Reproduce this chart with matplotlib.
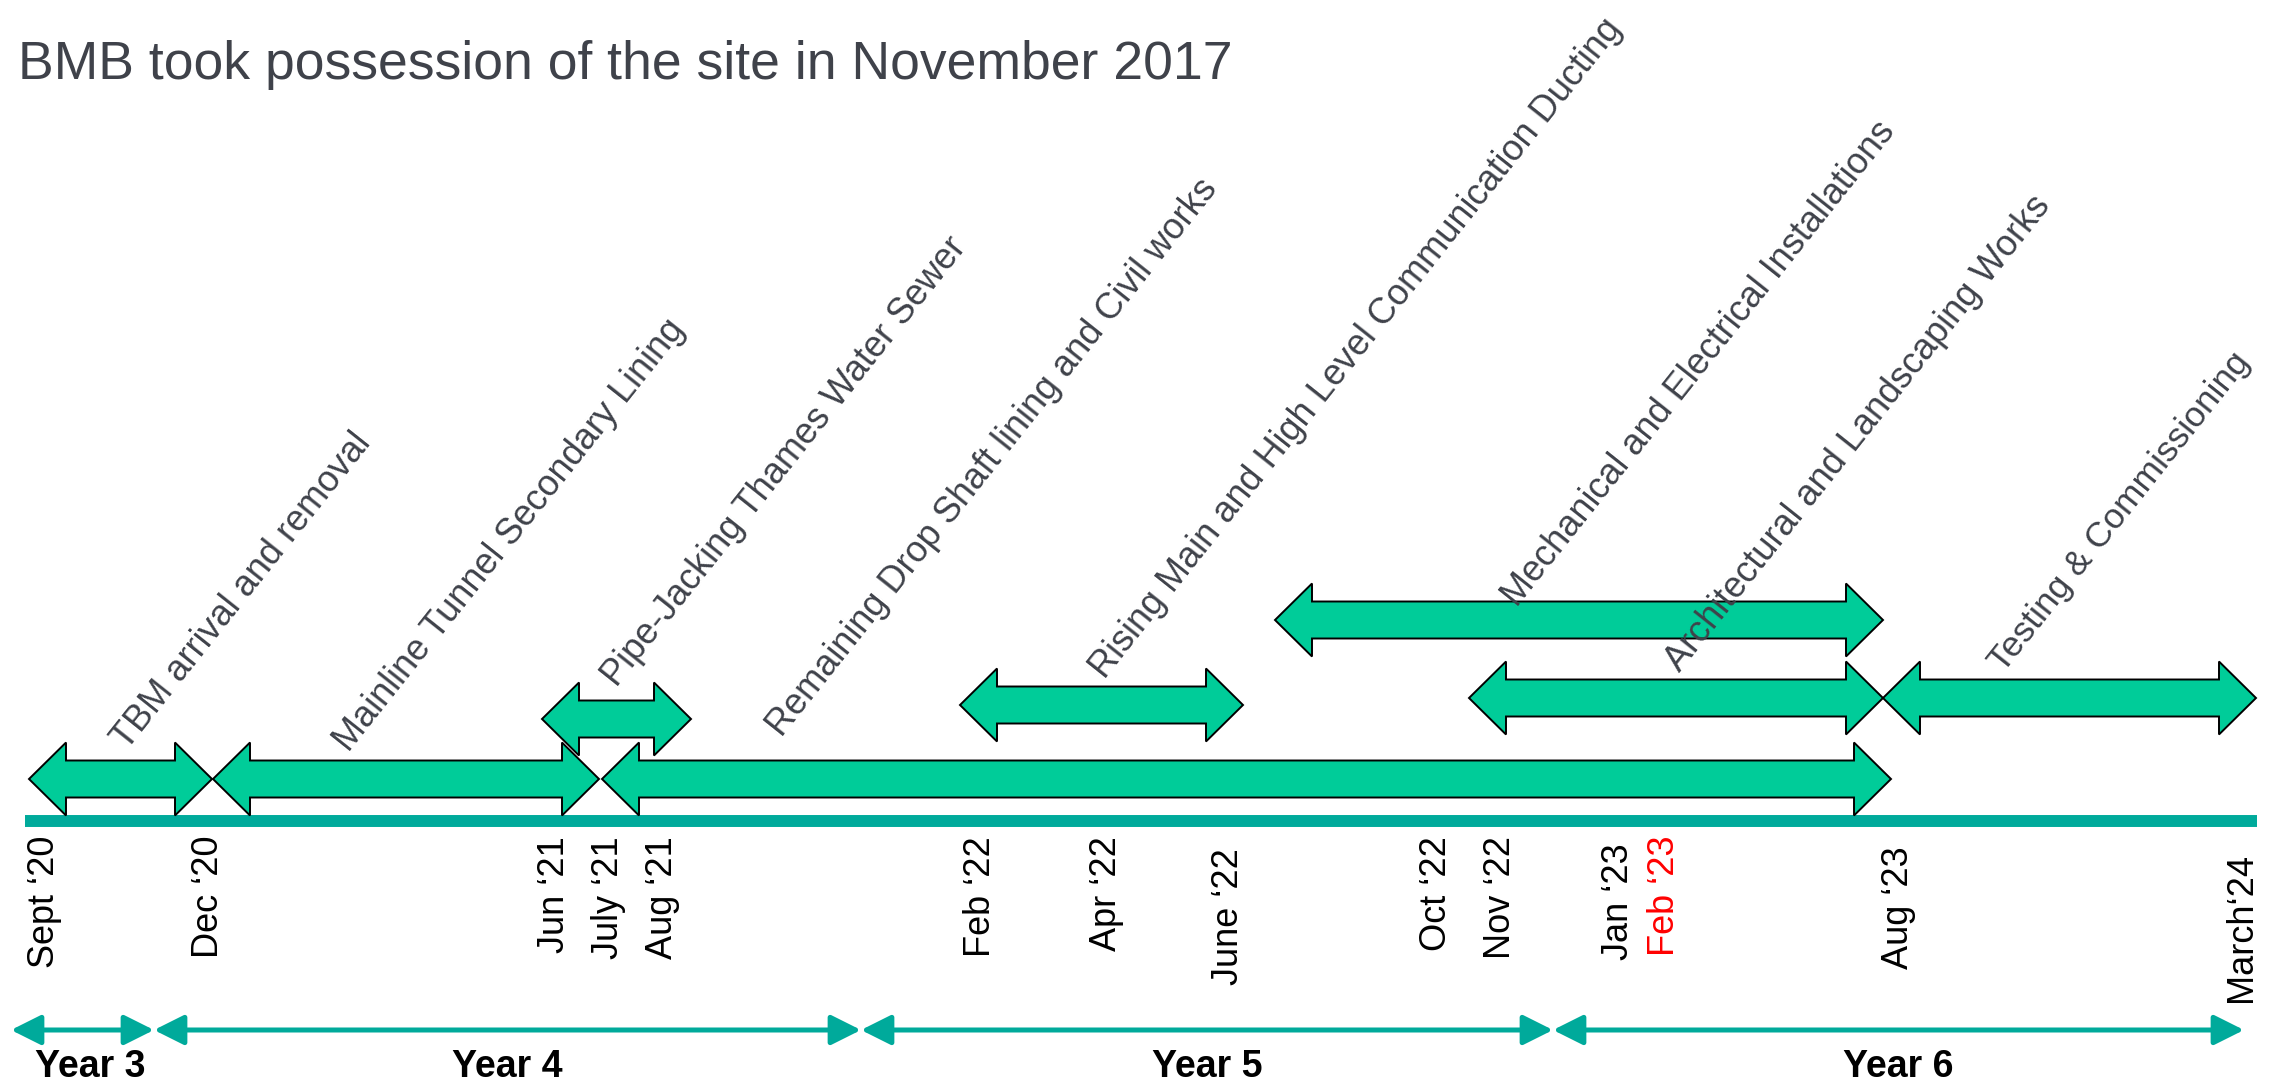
import matplotlib
matplotlib.use("Agg")
import matplotlib.pyplot as plt
from matplotlib import font_manager
from matplotlib.patches import Polygon, FancyArrowPatch

# ---- data ----
title = "BMB took possession of the site in November 2017"

milestones = ["Sept \u201820", "Dec \u201820", "Jun \u201821", "July \u201821", "Aug \u201821",
              "Feb \u201822", "Apr \u201822", "June \u201822", "Oct \u201822", "Nov \u201822",
              "Jan \u201823", "Feb \u201823", "Aug \u201823", "March\u201824"]
milestone_x = [45, 208, 554, 608, 662, 981, 1106, 1228, 1437, 1500, 1618, 1665, 1899, 2241]
highlight = ["Feb \u201823"]

tasks = ["TBM arrival and removal",
         "Mainline Tunnel Secondary Lining",
         "Pipe-Jacking Thames Water Sewer",
         "Remaining Drop Shaft lining and Civil works",
         "Rising Main and High Level Communication Ducting",
         "Mechanical and Electrical Installations",
         "Architectural and Landscaping Works",
         "Testing & Commissioning"]
task_start = [29, 213, 542, 602, 960, 1275, 1469, 1883]
task_end = [212, 599, 691, 1891, 1243, 1883, 1883, 2256]

years = ["Year 3", "Year 4", "Year 5", "Year 6"]
year_start = [11, 154, 861, 1553]
year_end = [154, 861, 1553, 2244]

# ---- layout ----
task_y = [779, 779, 719, 779, 705, 620, 698, 698]
label_xy = [(127, 751), (349, 753), (617, 688), (782, 738),
            (1105, 680), (1517, 608), (1680, 673), (2004, 674)]
label_size = [26, 26, 26, 26, 26, 26, 26, 25.5]
tick_top = {"June \u201822": 848, "Jan \u201823": 843, "Aug \u201823": 846, "March\u201824": 853}
year_label_x = [90, 507, 1207, 1898]

avail = {f.name for f in font_manager.fontManager.ttflist}
narrow = "Liberation Sans Narrow" if "Liberation Sans Narrow" in avail else "Liberation Sans"
plt.rcParams['font.family'] = ['Liberation Sans', 'DejaVu Sans']

fill_col = "#00CC99"
teal = "#00AA9B"
grey = "#3F424A"

fig = plt.figure(figsize=(22.72, 10.88), dpi=100)
ax = fig.add_axes([0, 0, 1, 1])
ax.set_xlim(0, 2272)
ax.set_ylim(1088, 0)
ax.axis("off")

ax.text(18, 79, title, fontsize=38.5, color=grey, family=[narrow, 'Liberation Sans'],
        ha="left", va="baseline")

# main timeline
ax.plot([25, 2257], [821, 821], color=teal, lw=8.6, solid_capstyle="butt", zorder=1)

hb, hh, hl = 18.5, 36.5, 37
for x0, x1, y in zip(task_start, task_end, task_y):
    pts = [(x0, y), (x0 + hl, y - hh), (x0 + hl, y - hb), (x1 - hl, y - hb),
           (x1 - hl, y - hh), (x1, y), (x1 - hl, y + hh), (x1 - hl, y + hb),
           (x0 + hl, y + hb), (x0 + hl, y + hh)]
    ax.add_patch(Polygon(pts, closed=True, facecolor=fill_col, edgecolor="black",
                         lw=1.4, joinstyle="miter", zorder=2))

for name, (lx, ly), fs in zip(tasks, label_xy, label_size):
    ax.text(lx, ly, name, fontsize=fs, color=grey, rotation=51.5,
            rotation_mode="anchor", ha="left", va="baseline", zorder=3)

for lab, x in zip(milestones, milestone_x):
    ax.text(x, tick_top.get(lab, 836), lab, fontsize=26, rotation=90,
            color="red" if lab in highlight else "black", ha="center", va="top")

for x0, x1 in zip(year_start, year_end):
    ax.add_patch(FancyArrowPatch((x0, 1030), (x1, 1030),
                                 arrowstyle="<|-|>,head_length=1.4,head_width=0.7",
                                 mutation_scale=13, color=teal, lw=3.6,
                                 shrinkA=0, shrinkB=0))

for lab, x in zip(years, year_label_x):
    ax.text(x, 1077, lab, fontsize=27, fontweight="bold", family=[narrow, 'Liberation Sans'],
            ha="center", va="baseline", color="black")

fig.savefig("out.png", dpi=100)
